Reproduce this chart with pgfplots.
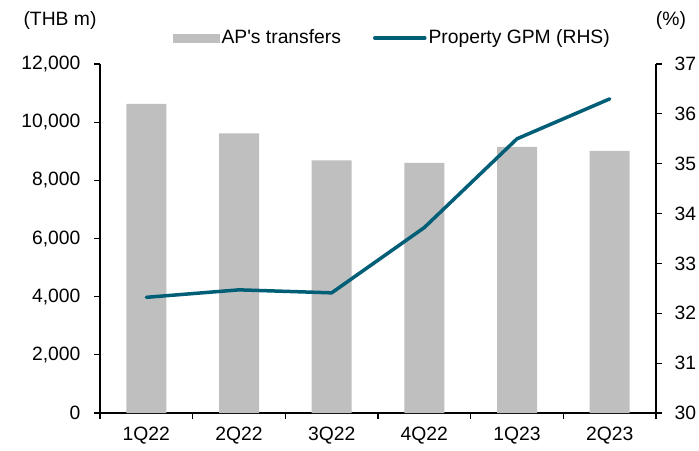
\documentclass[border=0pt]{standalone}
\usepackage{fontspec}
\setmainfont{Liberation Sans}
\usepackage{pgfplots}
\pgfplotsset{compat=1.18}
\definecolor{barg}{RGB}{191,191,191}
\definecolor{gpmc}{RGB}{0,94,118}
\pgfplotsset{
  linelegend/.style={legend image code/.code={\draw[##1] (0pt,0pt) -- (50pt,0pt);}},
  barlegend/.style={legend image code/.code={\fill[barg] (0pt,-4pt) rectangle (46pt,4pt);}},
}
\begin{document}
\fontsize{19.3}{22}\selectfont
\begin{tikzpicture}
\useasboundingbox (0,0) rectangle (699pt,450pt);
\begin{axis}[
  at={(100pt,37pt)}, anchor=south west,
  width=556pt, height=349pt, scale only axis,
  xmin=-0.5, xmax=5.5, ymin=0, ymax=12000,
  axis y line*=left, axis x line*=bottom,
  xtick={-0.5,0.5,...,5.5}, xticklabels={},
  extra x ticks={0,1,2,3,4,5},
  extra x tick labels={1Q22,2Q22,3Q22,4Q22,1Q23,2Q23},
  extra x tick style={major tick length=0pt},
  xticklabel style={yshift=-7pt},
  yticklabel style={xshift=-7pt},
  ytick={0,2000,...,12000},
  tick align=outside, major tick length=6pt,
  scaled y ticks=false,
  /pgf/number format/1000 sep={,},
  /pgf/number format/assume math mode=true,
  axis line style={line width=1.2pt, black},
  tick style={line width=1.2pt, black},
  clip=false,
]
\addplot[ybar, bar width=40pt, fill=barg, draw=none] coordinates {(0,10625) (1,9617) (2,8690) (3,8600) (4,9147) (5,9009)};
\end{axis}
\begin{axis}[
  at={(100pt,37pt)}, anchor=south west,
  width=556pt, height=349pt, scale only axis,
  xmin=-0.5, xmax=5.5, ymin=30, ymax=37,
  axis y line*=right, axis x line=none,
  ytick={30,31,...,37},
  yticklabel style={xshift=6pt},
  tick align=outside, major tick length=6pt,
  /pgf/number format/assume math mode=true,
  axis line style={line width=1.2pt, black},
  tick style={line width=1.2pt, black},
  legend style={at={(0.526,1.0745)}, anchor=center, draw=none, fill=none,
    legend columns=2, inner sep=0pt,
    /tikz/every even column/.append style={column sep=30pt},
    nodes={inner sep=2pt}},
  legend cell align=left,
  clip=false,
]
\addlegendimage{barlegend}
\addlegendentry{AP\textquotesingle s transfers}
\addplot[gpmc, line width=3.5pt, line join=round, line cap=round, linelegend]
  coordinates {(0,32.32) (1,32.47) (2,32.41) (3,33.72) (4,35.5) (5,36.3)};
\addlegendentry{Property GPM (RHS)}
\end{axis}
\node at (60pt,429pt) {(THB m)};
\node at (671pt,429pt) {(\%)};
\end{tikzpicture}
\end{document}
